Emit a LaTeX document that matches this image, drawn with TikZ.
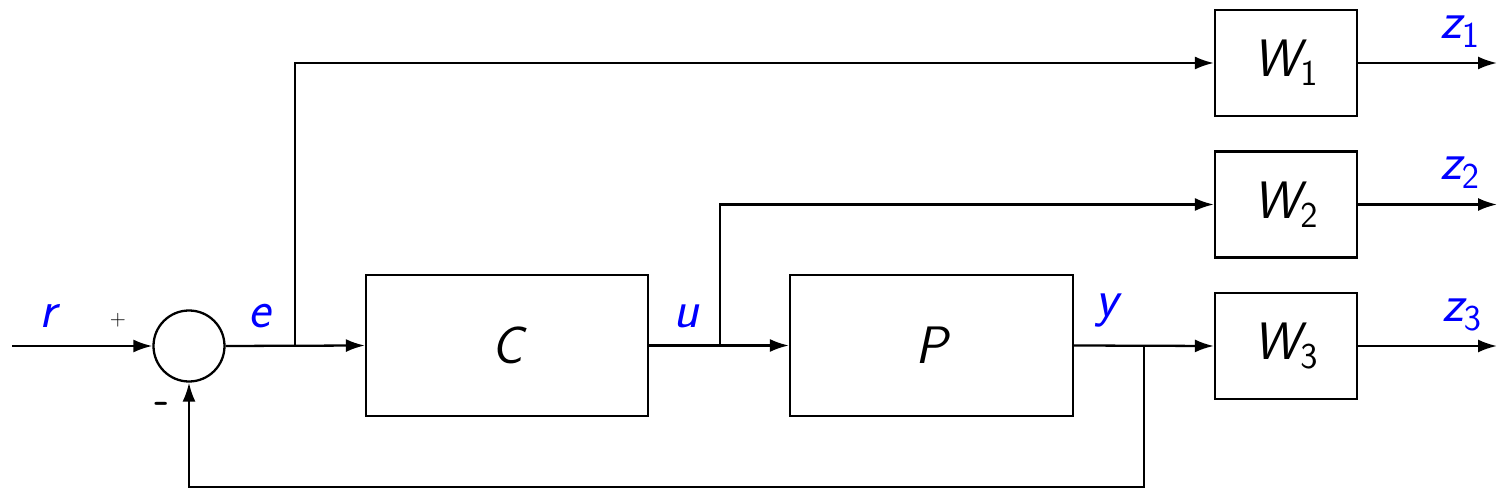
\documentclass[tikz,border=0pt]{standalone}
\usetikzlibrary{arrows.meta}
\begin{document}
\begin{tikzpicture}[x=0.02cm,y=-0.02cm,
  line width=1.3pt,
  arr/.style={-{Latex[length=3.8mm,width=2.6mm]}},
  blk/.style={draw,rectangle,inner sep=0pt,line width=1.3pt},
  big/.style={font=\fontsize{30}{35}\selectfont\sffamily\itshape},
  lbl/.style={big,text=blue,inner sep=0pt}]
\useasboundingbox (0,0) rectangle (1511,502);
% blocks
\node[blk,minimum width=282*0.02cm,minimum height=141*0.02cm,big] (C) at (507,345.5) {C};
\node[blk,minimum width=283*0.02cm,minimum height=141*0.02cm,big] (P) at (931.5,345.5) {P};
\node[blk,minimum width=142*0.02cm,minimum height=106*0.02cm,big] (W1) at (1286,63) {W$_{\mathsf{1}}$};
\node[blk,minimum width=142*0.02cm,minimum height=106*0.02cm,big] (W2) at (1286,204.5) {W$_{\mathsf{2}}$};
\node[blk,minimum width=142*0.02cm,minimum height=106*0.02cm,big] (W3) at (1286,346) {W$_{\mathsf{3}}$};
\node[draw,circle,minimum size=71*0.02cm,inner sep=0pt,line width=1.3pt] (S) at (189,346) {};
% coordinates
\coordinate (in) at (12,346);
\coordinate (eb) at (295,346);
\coordinate (ub) at (720,346);
\coordinate (yb) at (1144,346);
\coordinate (fb) at (1144,487);
\coordinate (o1) at (1497,63);
\coordinate (o2) at (1497,204.5);
\coordinate (o3) at (1497,346);
% connectors
\draw[arr] (in) -- (S.west);
\draw[arr] (S.east) -- (C.west);
\draw[arr] (eb) |- (W1.west);
\draw[arr] (C.east) -- (P.west);
\draw[arr] (ub) |- (W2.west);
\draw[arr] (P.east) -- (W3.west);
\draw[arr] (yb) -- (fb) -| (S.south);
\draw[arr] (W1.east) -- (o1);
\draw[arr] (W2.east) -- (o2);
\draw[arr] (W3.east) -- (o3);
% labels
\node[lbl] (lr) at (48,316) {r};
\node[lbl] (le) at (260,316) {e};
\node[lbl] (lu) at (686,316) {u};
\node[lbl] (ly) at (1107,311) {y};
\node[lbl] (lz1) at (1460,32) {z$_{\mathsf{1}}$};
\node[lbl] (lz2) at (1460,173) {z$_{\mathsf{2}}$};
\node[lbl] (lz3) at (1462,315) {z$_{\mathsf{3}}$};
\node[font=\large,inner sep=0pt] (plus) at (118,320) {$+$};
\node[font=\fontsize{24}{28}\selectfont\sffamily\bfseries,inner sep=0pt] (minus) at (162,408) {-};
\end{tikzpicture}
\end{document}
